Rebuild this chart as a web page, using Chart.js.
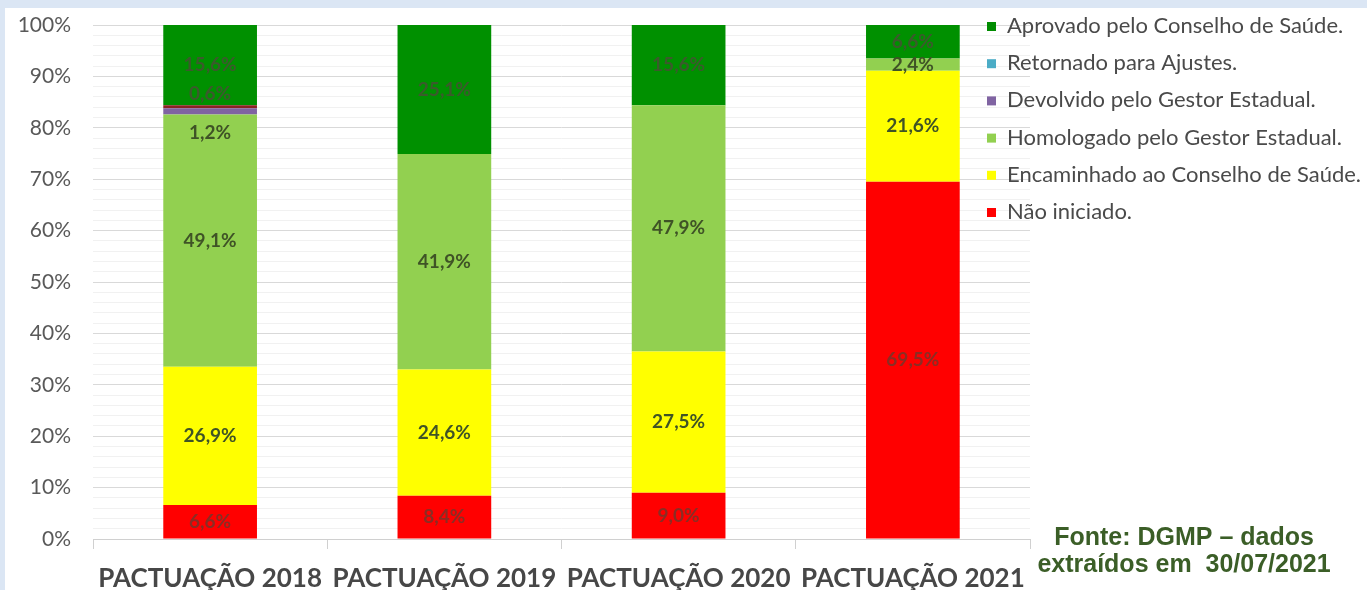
<!DOCTYPE html>
<html lang="pt-BR">
<head>
<meta charset="utf-8">
<title>Status das Pactuações</title>
<script src="https://cdn.jsdelivr.net/npm/chart.js@4.4.1/dist/chart.umd.min.js"></script>
<style>
  html, body { margin: 0; padding: 0; overflow: hidden; background: #dbe6f4; }
  #wrap { position: relative; width: 1367px; height: 590px; }
</style>
</head>
<body>
<div id="wrap"><canvas id="mainChart"></canvas></div>
<script>
// --- DATA ---
const categories = ['PACTUAÇÃO 2018', 'PACTUAÇÃO 2019', 'PACTUAÇÃO 2020', 'PACTUAÇÃO 2021'];
const naoIniciado = [6.6, 8.4, 9.0, 69.5];
const encaminhado = [26.9, 24.6, 27.5, 21.6];
const homologado = [49.1, 41.9, 47.9, 2.4];
const devolvido = [1.2, 0, 0, 0];
const retornado = [0.6, 0, 0, 0];
const aprovado = [15.6, 25.1, 15.6, 6.6];
const yTicks = [0, 10, 20, 30, 40, 50, 60, 70, 80, 90, 100];
const fonteLines = ['Fonte: DGMP – dados', 'extraídos em  30/07/2021'];

// --- STYLE ---
const FONT = 'Lato, "Open Sans", sans-serif';
const series = [
  { label: 'Não iniciado.', data: naoIniciado, color: '#ff0000', bar: '#ff0000', text: '#8a2d24' },
  { label: 'Encaminhado ao Conselho de Saúde.', data: encaminhado, color: '#ffff00', bar: '#ffff00', text: '#3f5326' },
  { label: 'Homologado pelo Gestor Estadual.', data: homologado, color: '#92d050', bar: '#92d050', text: '#3f5326' },
  { label: 'Devolvido pelo Gestor Estadual.', data: devolvido, color: '#8064a2', bar: '#8064a2', text: '#3f5326' },
  { label: 'Retornado para Ajustes.', data: retornado, color: '#4bacc6', bar: '#8b2323', text: '#3b5a2c' },
  { label: 'Aprovado pelo Conselho de Saúde.', data: aprovado, color: '#008c00', bar: '#009000', text: '#3b5a2c' }
];
// manual label nudges (dataset index -> category index -> px), like the moved labels in the original
const labelNudge = { 3: { 0: 22 }, 4: { 0: -13 } };

// --- PLUGINS ---
const backdrop = {
  id: 'backdrop',
  beforeDraw(chart) {
    const c = chart.ctx;
    c.save();
    c.fillStyle = '#dbe6f4';
    c.fillRect(0, 0, chart.width, chart.height);
    c.fillStyle = '#ffffff';
    c.fillRect(5, 8, chart.width - 5, chart.height - 8);
    c.restore();
  }
};

const segLabels = {
  id: 'segLabels',
  afterDatasetsDraw(chart) {
    const c = chart.ctx;
    c.save();
    c.font = 'bold 19px ' + FONT;
    c.textAlign = 'center';
    c.textBaseline = 'middle';
    chart.data.datasets.forEach((ds, i) => {
      const meta = chart.getDatasetMeta(i);
      meta.data.forEach((bar, j) => {
        const v = ds.data[j];
        if (!v) return;
        const top = Math.max(bar.y, chart.chartArea.top);
        const nudge = (labelNudge[i] && labelNudge[i][j]) || 0;
        c.fillStyle = series[i].text;
        c.fillText(v.toFixed(1).replace('.', ',') + '%', bar.x, (top + bar.base) / 2 + nudge);
      });
    });
    c.restore();
  }
};

const sideLegend = {
  id: 'sideLegend',
  afterDraw(chart) {
    const c = chart.ctx;
    c.save();
    c.font = '22px ' + FONT;
    c.textBaseline = 'middle';
    c.textAlign = 'left';
    const rows = series.slice().reverse();
    rows.forEach((s, k) => {
      const y = 26 + k * 37.2;
      c.fillStyle = s.color;
      c.fillRect(987, y - 4, 9, 9);
      c.fillStyle = '#4a4a4a';
      c.fillText(s.label, 1007, y);
    });
    // source note
    c.font = 'bold 25px "Liberation Sans", Arial, sans-serif';
    c.textAlign = 'center';
    c.textBaseline = 'alphabetic';
    c.fillStyle = '#3b5e27';
    fonteLines.forEach((t, k) => c.fillText(t, 1184, 545 + k * 27));
    c.restore();
  }
};

// --- CHART ---
const ctx = document.getElementById('mainChart').getContext('2d');
new Chart(ctx, {
  type: 'bar',
  data: {
    labels: categories,
    datasets: series.map(s => ({
      label: s.label,
      data: s.data,
      backgroundColor: s.bar,
      borderWidth: 0,
      categoryPercentage: 1,
      barPercentage: 0.4
    }))
  },
  options: {
    responsive: true,
    maintainAspectRatio: false,
    animation: false,
    layout: { padding: { top: 25, right: 337, bottom: 0, left: 10 } },
    plugins: {
      legend: { display: false },
      tooltip: { enabled: false }
    },
    scales: {
      x: {
        stacked: true,
        afterFit(scale) { scale.height = 51; scale.paddingLeft = 0; scale.paddingRight = 0; },
        grid: {
          offset: true,
          drawOnChartArea: false,
          drawTicks: true,
          tickLength: 10,
          color: '#d0d0d0'
        },
        border: { display: true, color: '#d0d0d0' },
        ticks: {
          color: '#474747',
          font: { family: FONT, size: 26, weight: 'bold' },
          padding: 14,
          maxRotation: 0,
          minRotation: 0,
          autoSkip: false
        }
      },
      y: {
        stacked: true,
        min: 0,
        max: 100,
        afterFit(scale) { scale.width = 83; scale.paddingTop = 0; scale.paddingBottom = 0; },
        afterBuildTicks(scale) {
          const t = [];
          for (let v = 0; v <= 100; v += 2) t.push({ value: v });
          scale.ticks = t;
        },
        grid: {
          drawTicks: false,
          color: c => (yTicks.includes(c.tick.value) ? '#d9d9d9' : '#f1f1f1')
        },
        border: { display: false },
        ticks: {
          color: '#595959',
          font: { family: FONT, size: 21 },
          padding: 22,
          autoSkip: false,
          callback: v => (yTicks.includes(v) ? v + '%' : '')
        }
      }
    }
  },
  plugins: [backdrop, segLabels, sideLegend]
});
</script>
</body>
</html>
